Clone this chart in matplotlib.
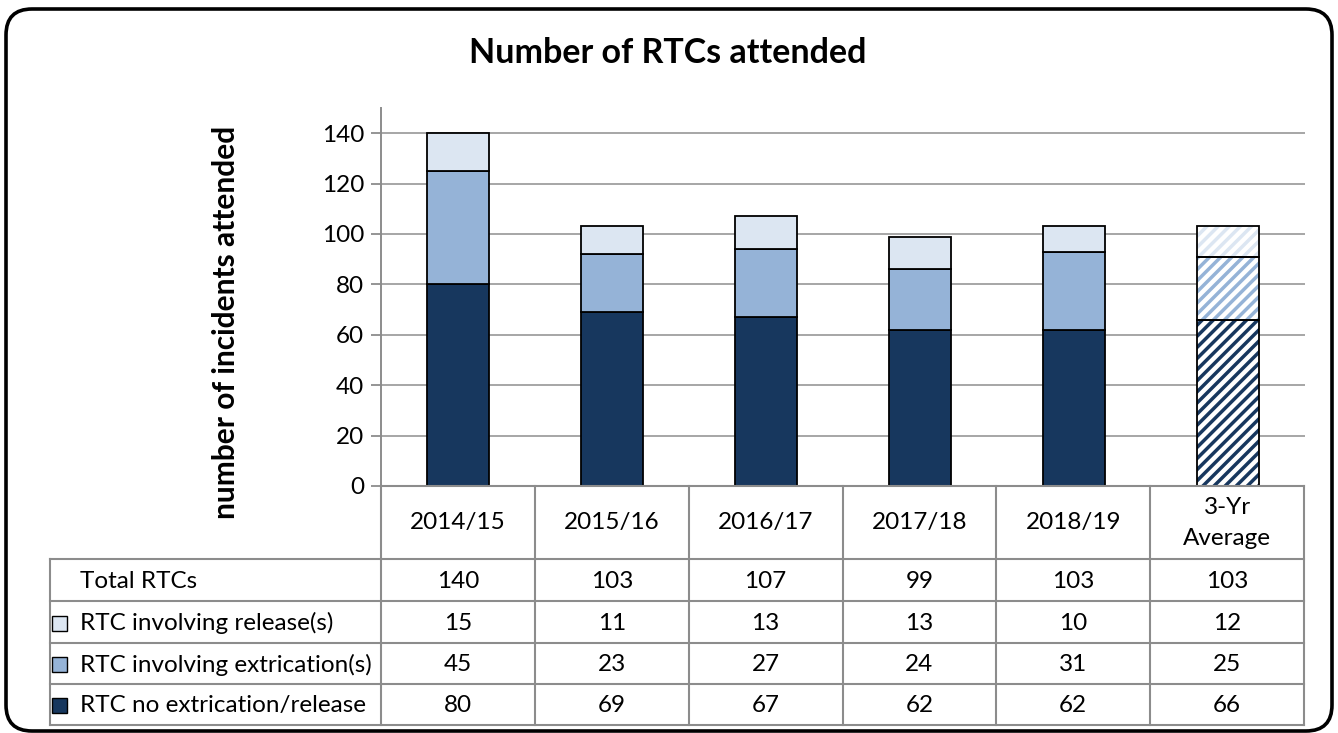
import matplotlib
matplotlib.use("Agg")
import matplotlib.pyplot as plt
from matplotlib.lines import Line2D
from matplotlib.patches import FancyBboxPatch, Rectangle

categories = ['2014/15', '2015/16', '2016/17', '2017/18', '2018/19', '3-Yr\nAverage']
no_extrication = [80, 69, 67, 62, 62, 66]
extrication = [45, 23, 27, 24, 31, 25]
release = [15, 11, 13, 13, 10, 12]
totals = [140, 103, 107, 99, 103, 103]
row_labels = ['Total RTCs', 'RTC involving release(s)', 'RTC involving extrication(s)', 'RTC no extrication/release']
yticks = [0, 20, 40, 60, 80, 100, 120, 140]

C_DARK = '#17375E'
C_MID = '#95B3D7'
C_LIGHT = '#DCE6F2'
GRID = '#A6A6A6'
TBL = '#8C8C8C'

plt.rcParams['font.family'] = ['Lato', 'DejaVu Sans']
plt.rcParams['hatch.linewidth'] = 2.5

W, H = 1338, 733
fig = plt.figure(figsize=(W / 100, H / 100), dpi=100)


def fx(x):
    return x / W


def fy(y):
    return 1 - y / H


# rounded outer border (display pixel coords)
border = FancyBboxPatch((6, H - 731), 1326, 722, boxstyle="round,pad=0,rounding_size=26",
                        transform=None, fill=False, edgecolor='black', linewidth=2.6)
fig.add_artist(border)

# plot area
L, R, T, B = 381, 1305, 108, 486
ax = fig.add_axes([fx(L), fy(B), (R - L) / W, (B - T) / H])
ax.set_xlim(-0.5, len(categories) - 0.5)
ax.set_ylim(0, 150)
ax.set_yticks(yticks)
ax.tick_params(axis='y', length=7, width=1.3, color=TBL, labelsize=17.5, pad=5)
ax.tick_params(axis='x', length=0, labelbottom=False)
for s in ['top', 'right', 'bottom']:
    ax.spines[s].set_visible(False)
ax.spines['left'].set_color(TBL)
ax.spines['left'].set_linewidth(1.4)
ax.yaxis.grid(True, color=GRID, linewidth=1.4)
ax.set_axisbelow(True)

xs = list(range(len(categories)))
bw = 0.4
n = len(categories)
segments = [(no_extrication, C_DARK), (extrication, C_MID), (release, C_LIGHT)]
bottoms = [0] * n
for vals, col in segments:
    for i in range(n):
        if i < n - 1:
            ax.bar(xs[i], vals[i], bw, bottom=bottoms[i], color=col,
                   edgecolor='black', linewidth=1.3, zorder=3)
        else:
            ax.bar(xs[i], vals[i], bw, bottom=bottoms[i], facecolor='white',
                   edgecolor=col, hatch='///', linewidth=0, zorder=3)
            ax.bar(xs[i], vals[i], bw, bottom=bottoms[i], fill=False,
                   edgecolor='black', linewidth=1.3, zorder=4)
    bottoms = [bottoms[i] + vals[i] for i in range(n)]

# title & ylabel
fig.text(fx(668), fy(53), 'Number of RTCs attended', ha='center', va='center',
         fontsize=24.5, fontweight='bold')
fig.text(fx(226), fy(322), 'number of incidents attended', ha='center', va='center',
         rotation=90, fontsize=21.5, fontweight='bold')

# table
colw = (1304 - 381) / n
tl = dict(color=TBL, linewidth=1.5)
rows_y = [486, 559, 601, 643, 684, 725]
fig.add_artist(Line2D([fx(381), fx(1304)], [fy(486), fy(486)], **tl))
for y in rows_y[1:]:
    fig.add_artist(Line2D([fx(50), fx(1304)], [fy(y), fy(y)], **tl))
fig.add_artist(Line2D([fx(50), fx(50)], [fy(559), fy(725)], **tl))
fig.add_artist(Line2D([fx(381), fx(381)], [fy(486), fy(725)], **tl))
for k in range(1, n + 1):
    xx = 381 + colw * k
    fig.add_artist(Line2D([fx(xx), fx(xx)], [fy(486), fy(725)], **tl))

fs = 17.5
for i, c in enumerate(categories):
    cx = 381 + colw * (i + 0.5)
    fig.text(fx(cx), fy(523), c, ha='center', va='center', fontsize=fs, linespacing=1.55)

row_data = [totals, release, extrication, no_extrication]
row_cols = [None, C_LIGHT, C_MID, C_DARK]
for r, (lab, data, col) in enumerate(zip(row_labels, row_data, row_cols)):
    yc = (rows_y[r + 1] + rows_y[r + 2]) / 2 + 1
    fig.text(fx(80), fy(yc), lab, ha='left', va='center', fontsize=fs)
    if col is not None:
        fig.add_artist(Rectangle((fx(52), fy(yc + 7.5)), 15 / W, 15 / H, facecolor=col,
                                 edgecolor='black', linewidth=1.0, transform=fig.transFigure))
    for i, v in enumerate(data):
        cx = 381 + colw * (i + 0.5)
        fig.text(fx(cx), fy(yc), str(v), ha='center', va='center', fontsize=fs)

fig.savefig('out.png', dpi=100)
